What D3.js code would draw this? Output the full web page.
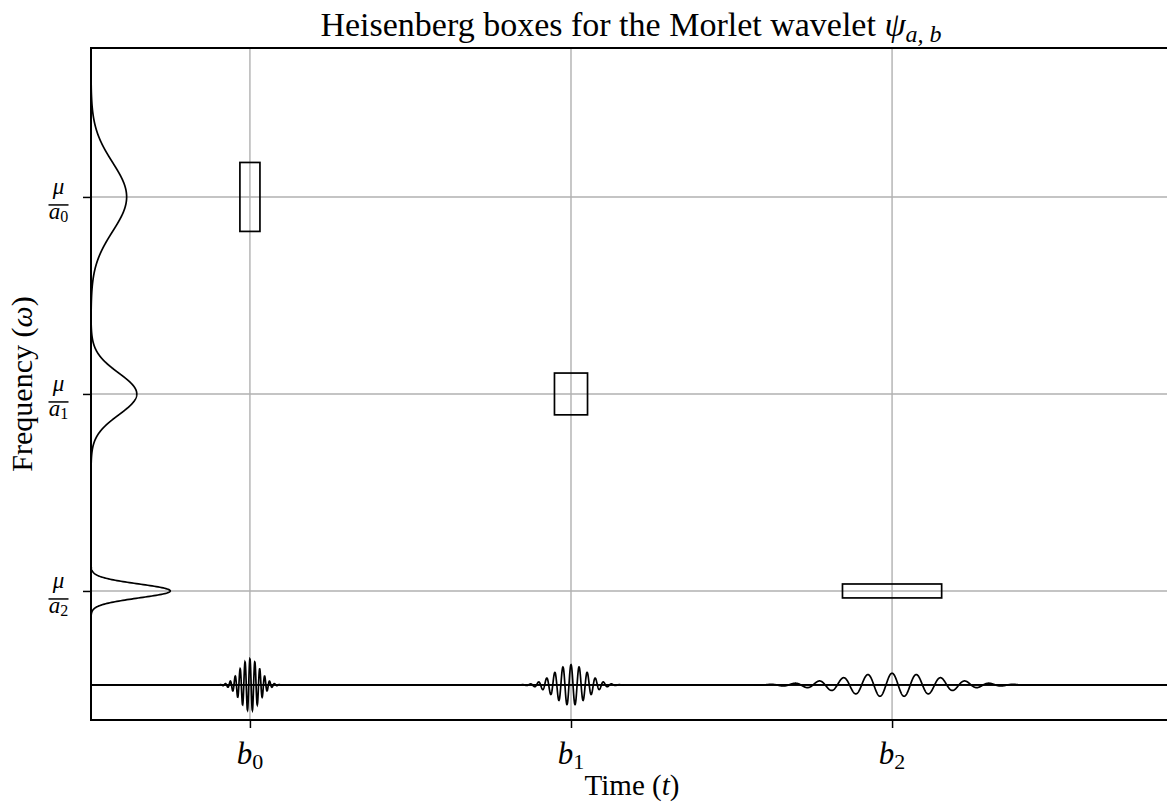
<!DOCTYPE html>
<html lang="en">
<head>
<meta charset="UTF-8">
<title>Heisenberg boxes</title>
<script src="https://cdn.jsdelivr.net/npm/d3@7"></script>
<style>
  body { margin: 0; background: #fff; }
  svg { display: block; font-family: "Liberation Serif", "DejaVu Serif", serif; }
</style>
</head>
<body>
<div id="chart"></div>
<script>
// Data
const timeCenters = [1, 2, 3];          // b0, b1, b2
const freqCenters = [3, 2, 1];          // mu/a0, mu/a1, mu/a2
const scales = [1, 1.65, 4.95];         // a0, a1, a2
const tickIndex = ["0", "1", "2"];
const sigmaT = 0.0312;   // box half width at a = 1 (time units)
const sigmaW = 0.175;    // box half height at a = 1 (freq units)
const period = 0.0153;   // oscillation period at a = 1
const waveAmp = 0.132;   // wavelet amplitude at a = 1
const specAmp = 0.111;   // spectrum peak height at a = 1
const waveBase = 0.523;  // level of the wavelet row
const xLimits = [0.505, 3.875];
const yLimits = [0.345, 3.756];

// Layout
const W = 1167, H = 803;
const pLeft = 91, pRight = 1173, pTop = 48, pBottom = 720;

const svg = d3.select("#chart").append("svg")
    .attr("width", W).attr("height", H);

const x = d3.scaleLinear().domain(xLimits).range([pLeft, pRight]);
const y = d3.scaleLinear().domain(yLimits).range([pBottom, pTop]);

svg.append("defs").append("clipPath").attr("id", "plot")
  .append("rect").attr("x", pLeft).attr("y", pTop)
    .attr("width", pRight - pLeft).attr("height", pBottom - pTop);

// grid
svg.append("g").selectAll("line").data(timeCenters).join("line")
    .attr("x1", d => x(d)).attr("x2", d => x(d))
    .attr("y1", pTop).attr("y2", pBottom)
    .attr("stroke", "#b0b0b0").attr("stroke-width", 1.4);
svg.append("g").selectAll("line").data(freqCenters).join("line")
    .attr("y1", d => y(d)).attr("y2", d => y(d))
    .attr("x1", pLeft).attr("x2", pRight)
    .attr("stroke", "#b0b0b0").attr("stroke-width", 1.4);

const plot = svg.append("g").attr("clip-path", "url(#plot)");

// wavelets along the bottom row
const nT = 6000;
const tSamples = d3.range(nT + 1).map(k => xLimits[0] + (xLimits[1] - xLimits[0]) * k / nT);
const waveLine = d3.line().x(d => x(d[0])).y(d => y(d[1]));

timeCenters.forEach(function(b, i) {
    const a = scales[i];
    const pts = tSamples.map(function(t) {
        const u = (t - b) / (sigmaT * a);
        const v = waveBase + waveAmp / Math.sqrt(a) * Math.exp(-u * u / 2) *
            Math.cos(2 * Math.PI * (t - b) / (period * a));
        return [t, v];
    });
    plot.append("path").attr("d", waveLine(pts))
        .attr("fill", "none").attr("stroke", "#000").attr("stroke-width", 1.7);
});

// spectra along the left side
const nW = 2000;
const wSamples = d3.range(nW + 1).map(k => yLimits[0] + (yLimits[1] - yLimits[0]) * k / nW);
const specLine = d3.line().x(d => x(d[1])).y(d => y(d[0]));

freqCenters.forEach(function(c, i) {
    const a = scales[i];
    const pts = wSamples.map(function(w) {
        const u = (w - c) / (sigmaW / a);
        return [w, xLimits[0] + specAmp * Math.sqrt(a) * Math.exp(-u * u / 2)];
    });
    plot.append("path").attr("d", specLine(pts))
        .attr("fill", "none").attr("stroke", "#000").attr("stroke-width", 1.7);
});

// Heisenberg boxes
plot.selectAll("rect").data(scales).join("rect")
    .attr("x", (a, i) => x(timeCenters[i] - sigmaT * a))
    .attr("width", (a, i) => x(timeCenters[i] + sigmaT * a) - x(timeCenters[i] - sigmaT * a))
    .attr("y", (a, i) => y(freqCenters[i] + sigmaW / a))
    .attr("height", (a, i) => y(freqCenters[i] - sigmaW / a) - y(freqCenters[i] + sigmaW / a))
    .attr("fill", "none").attr("stroke", "#000").attr("stroke-width", 1.7);

// axes (ticks only, labels drawn below)
const xAxis = svg.append("g").attr("transform", "translate(0," + pBottom + ")")
    .call(d3.axisBottom(x).tickValues(timeCenters).tickSize(8).tickFormat(""));
const yAxis = svg.append("g").attr("transform", "translate(" + pLeft + ",0)")
    .call(d3.axisLeft(y).tickValues(freqCenters).tickSize(8).tickFormat(""));
[xAxis, yAxis].forEach(function(g) {
    g.select(".domain").remove();
    g.selectAll(".tick line").attr("stroke", "#000").attr("stroke-width", 1.5);
});

// spines
svg.append("rect").attr("x", pLeft).attr("y", pTop)
    .attr("width", pRight - pLeft).attr("height", pBottom - pTop)
    .attr("fill", "none").attr("stroke", "#000").attr("stroke-width", 2);

// x tick labels b_i
timeCenters.forEach(function(b, i) {
    const t = svg.append("text").attr("x", x(b)).attr("y", 764)
        .attr("text-anchor", "middle").attr("font-size", 31);
    t.append("tspan").attr("font-style", "italic").text("b");
    t.append("tspan").attr("font-size", 22).attr("dy", 5).text(tickIndex[i]);
});

// y tick labels mu / a_i
freqCenters.forEach(function(c, i) {
    const g = svg.append("g").attr("transform", "translate(58.5," + y(c) + ")");
    g.append("text").attr("x", 0).attr("y", -3).attr("text-anchor", "middle")
        .attr("font-size", 23).attr("font-style", "italic").text("\u03bc");
    g.append("line").attr("x1", -10).attr("x2", 10).attr("y1", 8).attr("y2", 8)
        .attr("stroke", "#000").attr("stroke-width", 1.5);
    const d = g.append("text").attr("x", 0).attr("y", 22).attr("text-anchor", "middle")
        .attr("font-size", 23);
    d.append("tspan").attr("font-style", "italic").text("a");
    d.append("tspan").attr("font-size", 16).attr("dy", 3).text(tickIndex[i]);
});

// title and axis labels
const title = svg.append("text").attr("x", 631).attr("y", 36)
    .attr("text-anchor", "middle").attr("font-size", 34);
title.append("tspan").text("Heisenberg boxes for the Morlet wavelet ");
title.append("tspan").attr("font-style", "italic").text("\u03c8");
title.append("tspan").attr("font-style", "italic").attr("font-size", 24).attr("dy", 6).text("a, b");

const xl = svg.append("text").attr("x", (pLeft + pRight) / 2).attr("y", 795)
    .attr("text-anchor", "middle").attr("font-size", 29);
xl.append("tspan").text("Time (");
xl.append("tspan").attr("font-style", "italic").text("t");
xl.append("tspan").text(")");

const yl = svg.append("text").attr("transform", "translate(32," + (pTop + pBottom) / 2 + ") rotate(-90)")
    .attr("text-anchor", "middle").attr("font-size", 30);
yl.append("tspan").text("Frequency (");
yl.append("tspan").attr("font-style", "italic").text("\u03c9");
yl.append("tspan").text(")");
</script>
</body>
</html>
